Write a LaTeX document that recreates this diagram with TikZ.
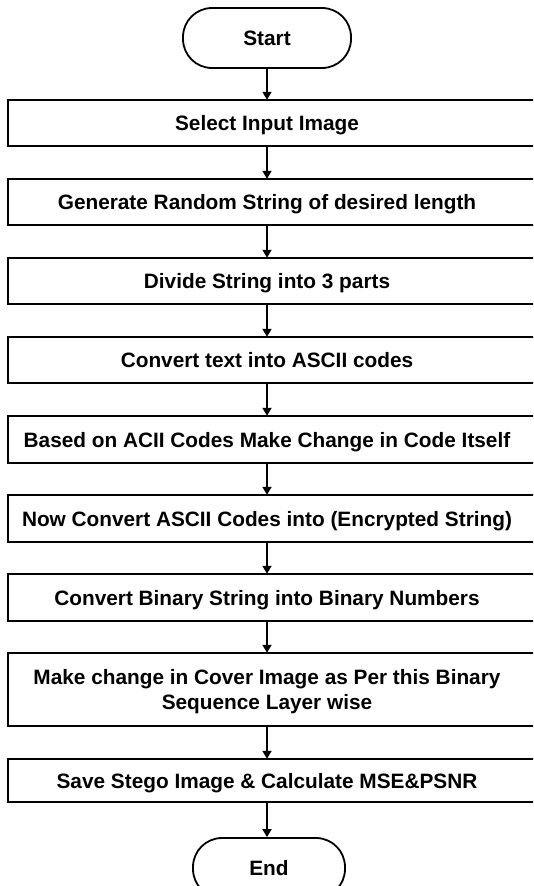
\documentclass[tikz,border=0pt]{standalone}
\usepackage{fontspec}
\setmainfont{Liberation Sans}
\usetikzlibrary{arrows.meta}
\tikzset{
  txt/.style={font=\bfseries\fontsize{20.8}{25}\selectfont},
  stepbox/.style={txt, minimum width=518pt, inner sep=0pt, align=center, text depth=0pt},
  term/.style={txt, draw, line width=1.8pt, rounded corners=29pt, minimum height=60pt, inner sep=0pt},
  boxline/.style={line width=1.8pt},
  flow/.style={line width=1.8pt, -{Triangle[width=9pt,length=8pt]}}
}
\begin{document}
\begin{tikzpicture}[x=1pt,y=-1pt]
  \useasboundingbox (0,0) rectangle (533,886);
  \clip (0,0) rectangle (533,886);
  \fill[white] (0,0) rectangle (533,886);
  \node[term, minimum width=168pt] (start) at (267,38) {Start};
  % the boxes run past the right margin, so their frame is drawn on its own below
  \foreach \n/\y/\h/\t in {b1/123/46/Select Input Image,
      b2/202/46/Generate Random String of desired length,
      b3/281/46/Divide String into 3 parts,
      b4/360/46/Convert text into ASCII codes,
      b5/439.5/47/Based on ACII Codes Make Change in Code Itself,
      b6/518.5/47/Now Convert ASCII Codes into (Encrypted String),
      b7/597.5/47/Convert Binary String into Binary Numbers,
      b8/689.5/73/Make change in Cover Image as Per this Binary\\Sequence Layer wise,
      b9/780.5/43/Save Stego Image \& Calculate MSE\&PSNR}{
    \node[stepbox, minimum height=\h pt] (\n) at (267,\y) {\t};};
  \node[term, minimum width=152pt] (end) at (269,868) {End};
  \foreach \i in {1,...,9}{
    \draw[boxline] (b\i.north west) rectangle ([xshift=20pt]b\i.south east);};
  \foreach \a/\b in {start/b1,b1/b2,b2/b3,b3/b4,b4/b5,b5/b6,b6/b7,b7/b8,b8/b9}{
    \draw[flow] (\a) -- (\b);};
  \draw[flow] (b9.south -| start) -- (end.north -| start);
\end{tikzpicture}
\end{document}
